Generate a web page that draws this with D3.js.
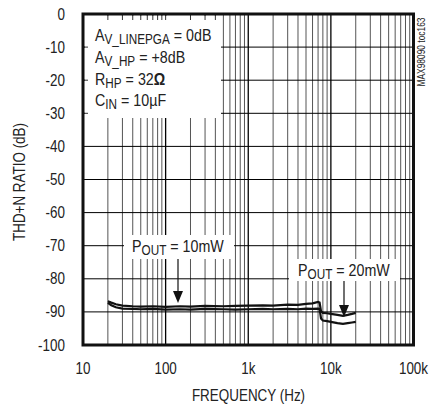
<!DOCTYPE html>
<html>
<head>
<meta charset="utf-8">
<script src="https://cdn.jsdelivr.net/npm/d3@7"></script>
<style>
  body { margin: 0; background: #fff; }
  svg text { font-family: "Liberation Sans", Arial, sans-serif; fill: #222; }
</style>
</head>
<body>
<script>
// curve data (Hz, dB)
var freqA = [20, 22, 25, 30, 40, 50, 70, 100, 150, 200, 300, 500, 700, 1000, 1500, 2000, 3000, 4000, 5000, 6000, 7000, 7300, 7600, 8000, 9000, 10000, 12000, 14000, 16000, 18000, 20000];
var thdA  = [-86.8, -87.2, -87.7, -88.1, -88.3, -88.4, -88.3, -88.5, -88.3, -88.4, -88.2, -88.3, -88.2, -88.1, -88.0, -88.1, -87.8, -87.9, -87.6, -87.4, -87.0, -87.2, -89.8, -90.3, -90.4, -90.6, -90.9, -91.2, -90.9, -90.6, -90.3];
var freqB = [20, 22, 25, 30, 40, 50, 70, 100, 150, 200, 300, 500, 700, 1000, 1500, 2000, 3000, 4000, 5000, 6000, 7000, 7300, 7600, 8000, 9000, 10000, 12000, 14000, 16000, 18000, 20000];
var thdB  = [-87.3, -88.0, -88.6, -89.0, -89.1, -89.2, -89.1, -89.3, -89.2, -89.3, -89.1, -89.2, -89.3, -89.2, -89.1, -89.2, -89.1, -89.2, -89.0, -89.1, -89.0, -89.1, -92.0, -92.6, -92.8, -93.0, -93.4, -93.6, -93.4, -93.2, -93.0];

var xTicks = [10, 100, 1000, 10000, 100000];
var xTickLabels = ["10", "100", "1k", "10k", "100k"];
var yTicks = [0, -10, -20, -30, -40, -50, -60, -70, -80, -90, -100];

var width = 429, height = 409;
var SX = 0.84; // condensed look
var svg = d3.select("body").append("svg")
  .attr("width", width)
  .attr("height", height);

var x = d3.scaleLog().domain([10, 100000]).range([83, 413.5]);
var y = d3.scaleLinear().domain([-100, 0]).range([345, 14]);

function label(px, py, s, size, anchor, rot) {
  var g = svg.append("g")
    .attr("transform", "translate(" + px + "," + py + ")" + (rot ? " rotate(" + rot + ")" : "") + " scale(" + SX + ",1)");
  var t = g.append("text").attr("font-size", size).attr("text-anchor", anchor || "start");
  if (s !== null) t.text(s);
  return t;
}

// minor + major vertical grid
var xGrid = [];
for (var dec = 10; dec < 100000; dec *= 10) {
  for (var m = 1; m < 10; m++) xGrid.push(dec * m);
}
svg.append("g").selectAll("line")
  .data(xGrid.filter(function(d) { return d > 10; }))
  .enter().append("line")
  .attr("x1", function(d) { return x(d); })
  .attr("x2", function(d) { return x(d); })
  .attr("y1", y(0)).attr("y2", y(-100))
  .attr("stroke", function(d) { return xTicks.indexOf(d) >= 0 ? "#000" : "#555"; })
  .attr("stroke-width", function(d) { return xTicks.indexOf(d) >= 0 ? 1.3 : 1; });

svg.append("g").selectAll("line")
  .data(yTicks.slice(1, -1))
  .enter().append("line")
  .attr("x1", x(10)).attr("x2", x(100000))
  .attr("y1", function(d) { return y(d); })
  .attr("y2", function(d) { return y(d); })
  .attr("stroke", "#000")
  .attr("stroke-width", 1);

// white label boxes covering the grid
var boxes = [[85, 16, 136, 102], [124, 235, 110, 24], [289, 259, 111, 22]];
svg.append("g").selectAll("rect")
  .data(boxes).enter().append("rect")
  .attr("x", function(d) { return d[0]; })
  .attr("y", function(d) { return d[1]; })
  .attr("width", function(d) { return d[2]; })
  .attr("height", function(d) { return d[3]; })
  .attr("fill", "#fff");

// short ticks along top and left edges inside the box
svg.append("g").selectAll("line")
  .data(xGrid.filter(function(d) { return d > 10 && x(d) < 222; }))
  .enter().append("line")
  .attr("x1", function(d) { return x(d); })
  .attr("x2", function(d) { return x(d); })
  .attr("y1", y(0)).attr("y2", y(0) + 6)
  .attr("stroke", "#333");
svg.append("g").selectAll("line")
  .data([-10, -20, -30])
  .enter().append("line")
  .attr("x1", x(10)).attr("x2", x(10) + 5)
  .attr("y1", function(d) { return y(d); })
  .attr("y2", function(d) { return y(d); })
  .attr("stroke", "#333");

// curves
var line = d3.line()
  .x(function(d) { return x(d[0]); })
  .y(function(d) { return y(d[1]); });

[[freqA, thdA], [freqB, thdB]].forEach(function(s) {
  svg.append("path")
    .datum(d3.zip(s[0], s[1]))
    .attr("d", line)
    .attr("fill", "none")
    .attr("stroke", "#111")
    .attr("stroke-width", 2.2);
});

// frame
svg.append("rect")
  .attr("x", x(10)).attr("y", y(0))
  .attr("width", x(100000) - x(10))
  .attr("height", y(-100) - y(0))
  .attr("fill", "none")
  .attr("stroke", "#111")
  .attr("stroke-width", 3);

// tick labels
yTicks.forEach(function(d) {
  label(65, y(d) + 5.5, String(d), 16, "end");
});
xTicks.forEach(function(d, i) {
  label(x(d), 374, xTickLabels[i], 16, "middle");
});

label(248.5, 401, "FREQUENCY (Hz)", 16, "middle");
label(25, 182, "THD+N RATIO (dB)", 16, "middle", -90);

label(425, 52, "MAX98090 toc163", 10, "middle", -90).attr("fill", "#444");

// conditions
function subText(px, py, main, sub, rest, bold) {
  var t = label(px, py, null, 17, "start");
  t.append("tspan").text(main);
  t.append("tspan").attr("font-size", 14).attr("dy", 3).text(sub);
  t.append("tspan").attr("dy", -3).text(rest);
  if (bold) t.append("tspan").attr("font-weight", "bold").text(bold);
  return t;
}
subText(95, 41, "A", "V_LINEPGA", " = 0dB");
subText(95, 63, "A", "V_HP", " = +8dB");
subText(95, 85, "R", "HP", " = 32", "\u03A9");
subText(95, 106, "C", "IN", " = 10\u00B5F");

subText(132, 252, "P", "OUT", " = 10mW");
subText(298, 276, "P", "OUT", " = 20mW");

// arrows
function arrow(px, y0, y1) {
  svg.append("line").attr("x1", px).attr("x2", px).attr("y1", y0).attr("y2", y1 - 10)
    .attr("stroke", "#111").attr("stroke-width", 1.2);
  svg.append("path")
    .attr("d", "M" + (px - 5) + "," + (y1 - 12) + "L" + (px + 5) + "," + (y1 - 12) + "L" + px + "," + y1 + "Z")
    .attr("fill", "#111");
}
arrow(178, 259, 303);
arrow(344, 281, 317);
</script>
</body>
</html>
